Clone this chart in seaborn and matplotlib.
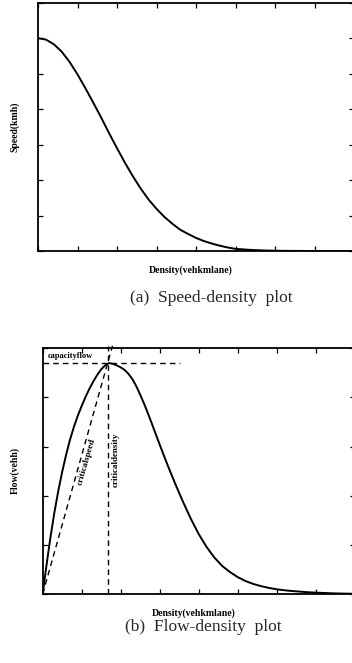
import matplotlib
matplotlib.use("Agg")
import matplotlib.pyplot as plt
import seaborn as sns
import pandas as pd

# ---- data (arbitrary units) ----
speed_density = [0, 4, 8, 12, 16, 20, 24, 28, 32, 36, 40, 44, 48, 52, 56, 60,
                 64, 68, 72, 76, 80, 84, 88, 92, 96, 100, 108, 116, 124, 140, 160]
speed_values = [60.0, 59.6, 58.3, 56.2, 53.3, 49.8, 45.9, 41.8, 37.6, 33.2, 29.0,
                24.9, 21.1, 17.6, 14.5, 11.9, 9.6, 7.7, 6.0, 4.8, 3.7, 2.8, 2.1,
                1.5, 1.0, 0.6, 0.3, 0.12, 0.05, 0.0, 0.0]

flow_density = [0, 2, 4, 6, 8, 10, 12, 14, 16, 18, 20, 22, 24, 26, 28, 30, 32,
                34, 36, 38, 40, 42, 44, 46, 48, 50, 52, 54, 56, 58, 60, 62, 64,
                68, 72, 76, 80, 84, 88, 92, 96, 100, 104, 108, 112, 116, 120,
                124, 128, 132, 136, 140, 150, 160]
flow_values = [0, 150, 290, 415, 525, 622, 708, 785, 850, 907, 957, 1003, 1045,
               1082, 1115, 1143, 1163, 1175, 1171, 1163, 1153, 1140, 1120, 1093,
               1057, 1014, 968, 918, 866, 813, 760, 708, 657, 560, 468, 382,
               305, 240, 186, 143, 112, 86, 66, 51, 40, 31, 24, 19, 15, 12, 9,
               7, 3, 1]

critical_density = 33.3
capacity_flow = 1175
ref_top = 1263          # where the dashed guides end (just above the axes)
capacity_line_end = 70.4

x_ticks = [0, 20, 40, 60, 80, 100, 120, 140, 160]
speed_ticks = [0, 10, 20, 30, 40, 50, 60, 70]
flow_ticks = [0, 250, 500, 750, 1000, 1250]

labels = {
    "speed": "Speed(kmh)",
    "flow": "Flow(vehh)",
    "density": "Density(vehkmlane)",
    "cap_a": "(a)  Speed-density  plot",
    "cap_b": "(b)  Flow-density  plot",
    "capacity": "capacityflow",
    "cspeed": "criticalspeed",
    "cdensity": "criticaldensity",
}

sns.set_theme(style="white")
plt.rcParams["font.family"] = ["Liberation Serif", "DejaVu Serif"]

W, H = 352, 663
fig = plt.figure(figsize=(W / 100, H / 100), dpi=100)


def px_axes(l, t, r, b):
    return fig.add_axes([l / W, 1 - b / H, (r - l) / W, (b - t) / H])


def style(ax):
    for s in ax.spines.values():
        s.set_linewidth(1.3)
        s.set_color("black")
        s.set_visible(True)
    ax.tick_params(direction="in", top=True, right=True, bottom=True, left=True,
                   length=3.5, width=0.9, color="black",
                   labelleft=False, labelbottom=False)
    ax.set_xlabel("")
    ax.set_ylabel("")


# ---- (a) speed-density ----
ax1 = px_axes(38, 2.7, 354, 251)
df_a = pd.DataFrame({"density": speed_density, "speed": speed_values})
sns.lineplot(data=df_a, x="density", y="speed", ax=ax1, color="black", lw=1.4)
ax1.set_xlim(0, 160)
ax1.set_ylim(0, 70)
ax1.set_xticks(x_ticks)
ax1.set_yticks(speed_ticks)
style(ax1)

# ---- (b) flow-density ----
ax2 = px_axes(42.7, 348.3, 354.7, 594)
df_b = pd.DataFrame({"density": flow_density, "flow": flow_values})
sns.lineplot(data=df_b, x="density", y="flow", ax=ax2, color="black", lw=1.4)
ax2.set_xlim(0, 160)
ax2.set_ylim(0, 1250)
ax2.set_xticks(x_ticks)
ax2.set_yticks(flow_ticks)
style(ax2)

dash = dict(color="black", lw=1.0, ls=(0, (4, 3)), clip_on=False)
ax2.plot([0, capacity_line_end], [capacity_flow, capacity_flow], **dash)
ax2.plot([critical_density, critical_density], [0, ref_top], **dash)
ax2.plot([0, critical_density * ref_top / capacity_flow], [0, ref_top], **dash)

bold = dict(fontweight="bold", color="black")


def ftext(x, y, s, **kw):
    fig.text(x / W, 1 - y / H, s, **kw)


ftext(15, 127, labels["speed"], rotation=90, ha="center", va="center", fontsize=7, **bold)
ftext(191, 270, labels["density"], ha="center", va="center", fontsize=7, **bold)
ftext(211, 298, labels["cap_a"], ha="center", va="center", fontsize=12.5)

ftext(15, 471, labels["flow"], rotation=90, ha="center", va="center", fontsize=7, **bold)
ftext(194, 613, labels["density"], ha="center", va="center", fontsize=7, **bold)
ftext(203, 627, labels["cap_b"], ha="center", va="center", fontsize=12.5)

ftext(48, 356, labels["capacity"], ha="left", va="center", fontsize=6, **bold)
ftext(87, 462, labels["cspeed"], rotation=74, ha="center", va="center",
      rotation_mode="anchor", fontsize=6.5, **bold)
ftext(116, 460, labels["cdensity"], rotation=90, ha="center", va="center", fontsize=6.5, **bold)

fig.savefig("out.png", dpi=100)
